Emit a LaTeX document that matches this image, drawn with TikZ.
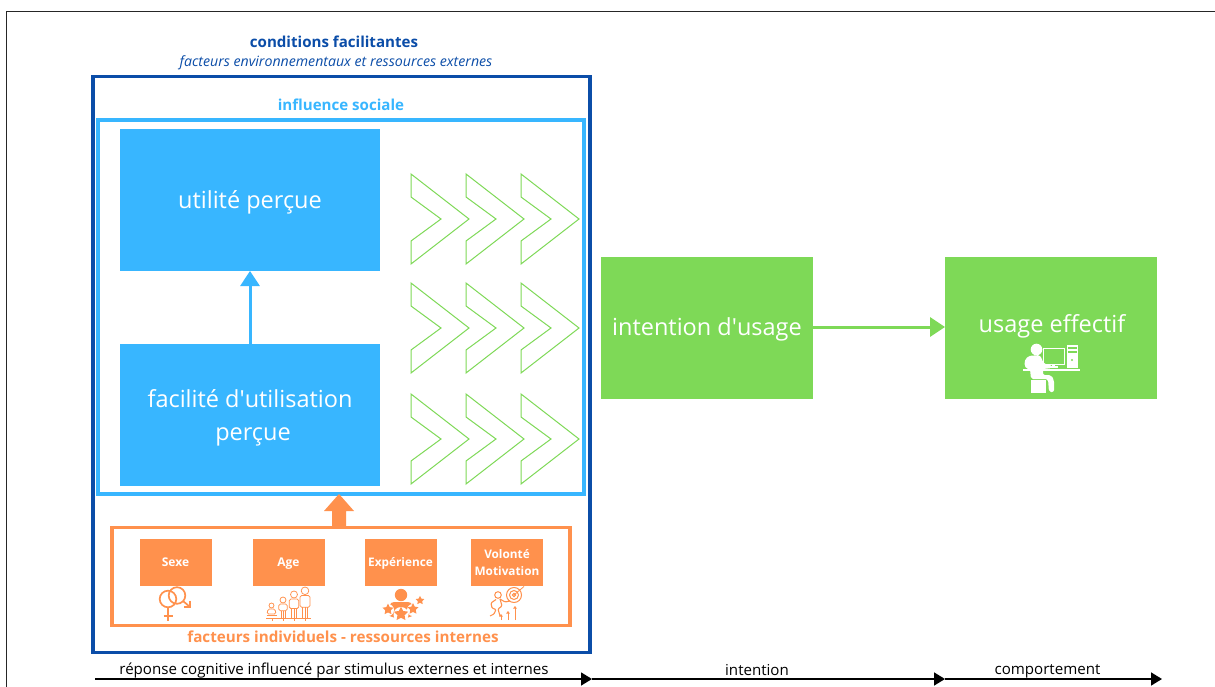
\documentclass[tikz,border=0pt]{standalone}
\usepackage{fontspec}
\setmainfont{Open Sans}
\newfontfamily\plainos{Open Sans}
\usetikzlibrary{arrows.meta,calc}
\definecolor{navy}{HTML}{0B4DA8}
\definecolor{sky}{HTML}{38B6FF}
\definecolor{leaf}{HTML}{7ED957}
\definecolor{peach}{HTML}{FF914D}
\newcommand{\fs}[1]{\fontsize{#1}{\dimexpr#1pt*12/10\relax}\selectfont}
\newcommand{\apos}{{\plainos\char39 }}
\tikzset{
  px/.style={x=1pt,y=-1pt},
  fillbox/.style={anchor=north west,inner sep=0pt,outer sep=0pt},
  framebox/.style={anchor=north west,inner sep=0pt,outer sep=0pt,draw,line width=3.4pt},
  boxtext/.style={inner sep=0pt,text=white,align=center},
  chev/.style={draw=leaf,line width=1pt,line join=miter,fill=none},
  ico/.style={draw=peach,line width=1pt,fill=none},
  axis/.style={draw=black,line width=1.6pt,-{Triangle[length=11pt,width=13pt]}},
  lab/.style={inner sep=0pt,text=black,anchor=base},
}
\newcommand{\chevron}[2]{%
  \draw[chev] (#1,#2-45) -- (#1+58,#2) -- (#1,#2+45) -- (#1,#2+22) -- (#1+30,#2) -- (#1,#2-22) -- cycle;}
\newcommand{\person}[4]{% x, foot y, height, head radius
  \draw[ico,line width=.75pt] (#1,#2-#3+#4) circle (#4);
  \draw[ico,line width=.75pt,rounded corners=1.5pt] (#1-#4-1.2,#2-#3*.35) -- (#1-#4-1.2,#2-#3+2*#4+1) -- (#1+#4+1.2,#2-#3+2*#4+1) -- (#1+#4+1.2,#2-#3*.35) -- cycle;
  \draw[ico,line width=.75pt] (#1-#4*.7,#2-#3*.35) -- (#1-#4*.7,#2) (#1+#4*.7,#2-#3*.35) -- (#1+#4*.7,#2) (#1,#2-#3*.35) -- (#1,#2);}
\newcommand{\staricon}[3]{%
  \fill[peach] ($(#1,#2)+(0,-#3)$) -- ($(#1,#2)+(-.294*#3,-.405*#3)$) -- ($(#1,#2)+(-.951*#3,-.309*#3)$) -- ($(#1,#2)+(-.476*#3,.155*#3)$) -- ($(#1,#2)+(-.588*#3,.809*#3)$) -- ($(#1,#2)+(0,.5*#3)$) -- ($(#1,#2)+(.588*#3,.809*#3)$) -- ($(#1,#2)+(.476*#3,.155*#3)$) -- ($(#1,#2)+(.951*#3,-.309*#3)$) -- ($(#1,#2)+(.294*#3,-.405*#3)$) -- cycle;}
\begin{document}
\begin{tikzpicture}[px]
\useasboundingbox (0,0) rectangle (1215,687);
\fill[white] (0,0) rectangle (1215,687);
% page frame
\coordinate (fa) at (6.5,687);
\coordinate (fb) at (6.5,11.5);
\coordinate (fc) at (1215,11.5);
\draw[black!85,line width=1.1pt] (fa) -- (fb) -- (fc);

% titles
\node[inner sep=0pt,text=navy] (t1) at (334,41.5) {\fs{15.1}\bfseries conditions facilitantes};
\node[inner sep=0pt,text=navy,anchor=base] (t2) at (336,66.5) {\fs{14.15}\itshape facteurs environnementaux et ressources externes};
\node[framebox,draw=navy,minimum width=497pt,minimum height=576pt] (outer) at (93,76.5) {};
\node[inner sep=0pt,text=sky] (t3) at (341,105) {\fs{15.1}\bfseries influence sociale};
\node[framebox,draw=sky,minimum width=486pt,minimum height=374pt] (inner) at (98,120) {};

% blue boxes
\node[fillbox,fill=sky,minimum width=260pt,minimum height=142pt] (u) at (120,129) {};
\node[boxtext,anchor=base] (ut) at (250,209) {\fs{23.5}utilité perçue};
\node[fillbox,fill=sky,minimum width=260pt,minimum height=142pt] (f) at (120,344) {};
\node[boxtext,anchor=base] (ft1) at (250,407) {\fs{23.5}facilité d\apos utilisation};
\node[boxtext,anchor=base] (ft2) at (253,440) {\fs{23.5}perçue};
\draw[sky,line width=3pt,-{Triangle[length=15pt,width=19pt]}] (f.north) -- (u.south);

% chevrons
\foreach \yy in {219,328,439}{\foreach \xx in {411,466,521}{\chevron{\xx}{\yy}}}

% green boxes
\node[fillbox,fill=leaf,minimum width=211.5pt,minimum height=142pt] (i) at (601,257) {};
\node[boxtext,anchor=base] (it) at (707,335) {\fs{23.5}intention d\apos usage};
\node[fillbox,fill=leaf,minimum width=212pt,minimum height=142pt] (e) at (945,257) {};
\node[boxtext,anchor=base] (et) at (1052,332) {\fs{23.5}usage effectif};
\draw[leaf,line width=3pt,-{Triangle[length=15pt,width=19pt]}] ([yshift=1pt]i.east) -- ([yshift=1pt]e.west);

% computer user icon
\begin{scope}[shift={(1000,300)}]
  \fill[white] (36.5,49.5) circle (5.8);
  \fill[white,rounded corners=2pt] (26,69) -- (24,62) -- (28,56) -- (40,55) -- (44,64) -- (52,65) -- (52,68) -- (43,69) -- (43,75) -- (51,75) -- (54,80) -- (54,92) -- (49,92) -- (48,79) -- (31,79) -- (30,69) -- cycle;
  \fill[white] (31,80) rectangle (46,93);
  \fill[white] (23,68.5) rectangle (80,71);
  \draw[white,line width=.8pt] (43,48) rectangle (64,64);
  \fill[white] (52,64) rectangle (55,67);
  \fill[white] (50,66) rectangle (58,68);
  \fill[white] (66.5,44.5) rectangle (78,68);
  \fill[leaf] (68,47) rectangle (76.5,49);
  \fill[leaf] (68,51) rectangle (76.5,53);
  \fill[leaf] (72,60) circle (1.2);
\end{scope}

% orange part
\node[framebox,draw=peach,minimum width=458pt,minimum height=98pt] (o) at (112,527.5) {};
\fill[peach] (332,527) -- (332,511) -- (324,511) -- (339,494) -- (354,511) -- (346,511) -- (346,527) -- cycle;
\node[fillbox,fill=peach,minimum width=72pt,minimum height=47.5pt] (b1) at (139.5,538.5) {};
\node[fillbox,fill=peach,minimum width=72pt,minimum height=47.5pt] (b2) at (252.5,538.5) {};
\node[fillbox,fill=peach,minimum width=72pt,minimum height=47.5pt] (b3) at (364.5,538.5) {};
\node[fillbox,fill=peach,minimum width=72pt,minimum height=47.5pt] (b4) at (471,538.5) {};
\node[boxtext,anchor=base] (b1t) at (175.5,566.5) {\fs{12}\bfseries Sexe};
\node[boxtext,anchor=base] (b2t) at (288.5,566.5) {\fs{12}\bfseries Age};
\node[boxtext,anchor=base] (b3t) at (400.5,566.5) {\fs{11.8}\bfseries Expérience};
\node[boxtext,anchor=base] (b4t) at (507,558.5) {\fs{11.8}\bfseries Volonté};
\node[boxtext,anchor=base] (b4u) at (507,575) {\fs{11.8}\bfseries Motivation};
\node[inner sep=0pt,text=peach] (t4) at (343,637) {\fs{15.2}\bfseries facteurs individuels - ressources internes};

% sex icon
\draw[ico,line width=1.7pt] (168,599) circle (8.3);
\draw[ico,line width=1.7pt] (177,595.5) circle (8.3);
\draw[ico,line width=1.7pt] (168,607.5) -- (168,621) (163.5,616) -- (172.5,616);
\draw[ico,line width=1.7pt] (183,601) -- (189.5,606.5);
\draw[ico,line width=1.7pt,line join=miter] (190,600.5) -- (190,607) -- (183.5,607);
% age icon
\draw[ico,line width=.9pt] (266,618) -- (311,618);
\draw[ico,line width=.7pt] (272,618) -- (272,621) (283,618) -- (283,621) (294,618) -- (294,621) (305,618) -- (305,621);
\draw[ico,line width=.75pt] (271.5,605.5) circle (2.5);
\draw[ico,line width=.75pt,rounded corners=1.5pt] (268,609) -- (275,609) -- (276,614) -- (267,614) -- cycle;
\draw[ico,line width=.75pt] (266.5,615.5) -- (277,615.5);
\person{283}{618}{21}{3}
\person{294}{618}{27}{3.5}
\person{305}{618}{31}{3.8}
% star icon
\fill[peach] (401,595) circle (6.2);
\fill[peach,rounded corners=3pt] (386,614) -- (391,602) -- (411,602) -- (416,614) -- (408,618) -- (394,618) -- cycle;
\fill[white] (401,614.5) circle (7.5);
\fill[white] (388,610) circle (6);
\fill[white] (413,610) circle (6);
\staricon{401}{614}{7.5}
\staricon{388}{609.5}{5.8}
\staricon{413}{609}{5.8}
\staricon{420}{600.5}{4.6}
% motivation icon
\draw[ico,line width=1pt] (514,595) circle (7.5) (514,595) circle (4.5) (514,595) circle (1.6);
\draw[ico,line width=.8pt] (514,595) -- (524,586.5);
\draw[ico,line width=1pt] (498,595) circle (3.3);
\draw[ico,line width=1.1pt,rounded corners=1pt] (496,599.5) -- (491,603) -- (492,608) -- (496,609.5) -- (494,614) -- (490,616);
\draw[ico,line width=1.1pt,rounded corners=1pt] (500,599) -- (505,602) -- (510,601);
\draw[ico,line width=1.1pt,rounded corners=1pt] (500,599) -- (502,606) -- (498,609) -- (500,616);
\draw[ico,line width=.9pt,-{Triangle[length=2.5pt,width=3.5pt]}] (501,620) -- (501,614);
\draw[ico,line width=.9pt,-{Triangle[length=2.5pt,width=3.5pt]}] (508,620) -- (508,611);
\draw[ico,line width=.9pt,-{Triangle[length=2.5pt,width=3.5pt]}] (515,620) -- (515,606);

% bottom axis
\coordinate (a0) at (95,679);
\coordinate (a1) at (592,679);
\coordinate (a2) at (945,679);
\coordinate (a3) at (1162,679);
\draw[axis] (a0) -- (a1);
\draw[axis] (a1) -- (a2);
\draw[axis] (a2) -- (a3);
\node[lab] (l1) at (334,674.5) {\fs{15.1}réponse cognitive influencé par stimulus externes et internes};
\node[lab] (l2) at (757,675) {\fs{15.1}intention};
\node[lab] (l3) at (1047.5,674) {\fs{15.1}comportement};
\end{tikzpicture}
\end{document}
